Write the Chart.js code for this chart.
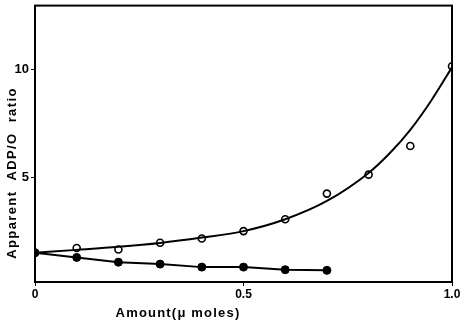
<!DOCTYPE html>
<html>
<head>
<meta charset="utf-8">
<script src="https://cdn.jsdelivr.net/npm/chart.js@4"></script>
<style>
  html, body { margin: 0; padding: 0; background: #fff; }
  #wrap { width: 460px; height: 327px; }
</style>
</head>
<body>
<div id="wrap"><canvas id="chart" width="460" height="327"></canvas></div>
<script>
// Values
const amounts = [0, 0.1, 0.2, 0.3, 0.4, 0.5, 0.6, 0.7, 0.8, 0.9, 1.0];
const openRatio = [1.5, 1.72, 1.65, 1.96, 2.16, 2.5, 3.05, 4.24, 5.12, 6.45, 10.15];
const filledAmounts = [0, 0.1, 0.2, 0.3, 0.4, 0.5, 0.6, 0.7];
const filledRatio = [1.5, 1.28, 1.06, 0.97, 0.83, 0.83, 0.71, 0.68];
// hand-drawn fitted curve through the open circles
const curveAmounts = [0, 0.1, 0.2, 0.3, 0.4, 0.5, 0.6, 0.7, 0.8, 0.85, 0.9, 0.95, 1.0];
const curveRatio = [1.5, 1.63, 1.77, 1.95, 2.2, 2.5, 3.05, 3.9, 5.2, 6.1, 7.2, 8.55, 10.1];
const xTicks = [0, 0.5, 1.0];
const yTicks = [5, 10];

const toPoints = (xs, ys) => xs.map((x, i) => ({ x: x, y: ys[i] }));

const FONT = 'Liberation Sans, Arial, sans-serif';

// frame + axis titles
const frame = {
  id: 'frame',
  afterDraw(chart) {
    const { ctx, chartArea: a } = chart;
    ctx.save();
    ctx.strokeStyle = '#000';
    ctx.lineWidth = 2;
    ctx.strokeRect(a.left, a.top, a.right - a.left, a.bottom - a.top);
    ctx.fillStyle = '#000';
    ctx.font = 'bold 13px ' + FONT;
    ctx.letterSpacing = '1.2px';
    ctx.textAlign = 'center';
    ctx.textBaseline = 'middle';
    ctx.fillText('Amount(\u03bc moles)', 178, 313);
    ctx.translate(12, 173);
    ctx.rotate(-Math.PI / 2);
    ctx.letterSpacing = '1.4px';
    ctx.fillText('Apparent  ADP/O  ratio', 0, 0);
    ctx.restore();
  }
};

const ctx = document.getElementById('chart').getContext('2d');
new Chart(ctx, {
  type: 'scatter',
  data: {
    datasets: [
      {
        label: 'fit',
        data: toPoints(curveAmounts, curveRatio),
        showLine: true,
        borderColor: '#000',
        borderWidth: 2,
        pointRadius: 0,
        cubicInterpolationMode: 'monotone'
      },
      {
        label: 'filled',
        data: toPoints(filledAmounts, filledRatio),
        showLine: true,
        borderColor: '#000',
        borderWidth: 2,
        backgroundColor: '#000',
        pointRadius: 4,
        pointBorderWidth: 1
      },
      {
        label: 'open',
        data: toPoints(amounts, openRatio),
        showLine: false,
        borderColor: '#000',
        backgroundColor: '#fff',
        pointRadius: 3.5,
        pointBorderWidth: 1.6
      }
    ]
  },
  options: {
    responsive: false,
    animation: false,
    layout: { padding: { top: 5, right: 8, left: 0, bottom: 0 } },
    plugins: { legend: { display: false }, tooltip: { enabled: false } },
    scales: {
      x: {
        type: 'linear',
        min: 0,
        max: 1,
        afterBuildTicks: s => { s.ticks = xTicks.map(v => ({ value: v })); },
        afterFit: s => { s.height = 45; s.paddingLeft = 0; s.paddingRight = 0; },
        grid: { display: true, drawOnChartArea: false, tickLength: 4, color: '#000', lineWidth: 1 },
        border: { display: true, color: '#000', width: 2 },
        ticks: {
          color: '#000',
          padding: 1,
          maxRotation: 0,
          font: { family: FONT, size: 12, weight: 'bold' },
          callback: v => (v === 0 ? '0' : v.toFixed(1))
        }
      },
      y: {
        type: 'linear',
        min: 0.14,
        max: 12.96,
        afterBuildTicks: s => { s.ticks = yTicks.map(v => ({ value: v })); },
        afterFit: s => { s.width = 35; s.paddingTop = 0; s.paddingBottom = 0; },
        grid: { display: true, drawOnChartArea: false, tickLength: 4, color: '#000', lineWidth: 1 },
        border: { display: true, color: '#000', width: 2 },
        ticks: {
          color: '#000',
          padding: 2,
          font: { family: FONT, size: 13, weight: 'bold' },
          callback: v => String(v)
        }
      }
    }
  },
  plugins: [frame]
});
</script>
</body>
</html>
